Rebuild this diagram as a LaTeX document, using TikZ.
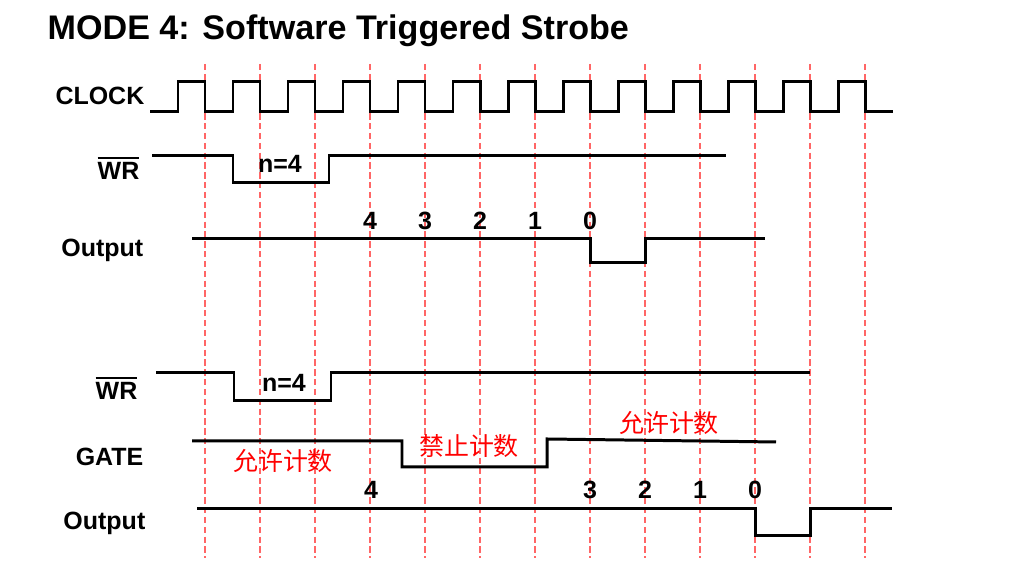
\documentclass[tikz,border=0pt]{standalone}
\usepackage{fontspec}
\setmainfont{Liberation Sans}
\newfontfamily\cjk{Noto Sans CJK SC}
\tikzset{
  sig/.style={line width=0.85pt},
  guide/.style={red!60,line width=0.35pt,dash pattern=on 1.8pt off 1pt},
  lbl/.style={font=\fontsize{7.1}{8}\selectfont\bfseries,inner sep=0pt},
  cnt/.style={red,font=\fontsize{7.1}{8}\selectfont\cjk,inner sep=0pt}
}
\begin{document}
\begin{tikzpicture}[x=0.01cm,y=-0.01cm]
\useasboundingbox (0,0) rectangle (1024,571);
% clock edges
\foreach \k in {0,...,12}
  \draw [guide] ({205+55*\k},64) -- ({205+55*\k},558);
\node [lbl,font=\fontsize{9.7}{11}\selectfont\bfseries,anchor=base west] (title) at (47,40) {MODE 4: Software Triggered Strobe};
% upper case
\node [lbl,anchor=base east] (clk) at (145,105) {CLOCK};
\draw [sig] (150,112) \foreach \k in {0,...,12} {-- ({178+55*\k},112) |- ({205+55*\k},82) -- ({205+55*\k},112)} -- (893,112);
\node [lbl,anchor=base east] (wra) at (140,180) {$\overline{\mbox{WR}}$};
\draw [sig] (152,156) -- (233,156) -- (233,183) -- (329,183) -- (329,156) -- (726,156);
\node [lbl,anchor=base] (na) at (280,173) {n=4};
\node [lbl,anchor=base east] (outa) at (144,257) {Output};
\draw [sig] (192,239) -- (590,239) -- (590,263) -- (645,263) -- (645,239) -- (765,239);
\node [lbl,anchor=base] (ca4) at (370,229.5) {4};
\node [lbl,anchor=base] (ca3) at (425,229.5) {3};
\node [lbl,anchor=base] (ca2) at (480,229.5) {2};
\node [lbl,anchor=base] (ca1) at (535,229.5) {1};
\node [lbl,anchor=base] (ca0) at (590,229.5) {0};
% lower case, gate held low
\node [lbl,anchor=base east] (wrb) at (138,400) {$\overline{\mbox{WR}}$};
\draw [sig] (156,373) -- (234,373) -- (234,401) -- (331,401) -- (331,373) -- (810,373);
\node [lbl,anchor=base] (nb) at (284,391.5) {n=4};
\node [lbl,anchor=base east] (gate) at (144,466) {GATE};
\draw [sig] (192,441) -- (402,441) -- (402,467) -- (547,467) -- (547,439) -- (776,442);
\node [cnt] (ena) at (283,461) {允许计数};
\node [cnt] (dis) at (469,446) {禁止计数};
\node [cnt] (enb) at (669,423) {允许计数};
\node [lbl,anchor=base east] (outb) at (146,530) {Output};
\draw [sig] (197,509) -- (755,509) -- (755,536) -- (810,536) -- (810,509) -- (892,509);
\node [lbl,anchor=base] (cb4) at (371,499) {4};
\node [lbl,anchor=base] (cb3) at (590,499) {3};
\node [lbl,anchor=base] (cb2) at (645,499) {2};
\node [lbl,anchor=base] (cb1) at (700,499) {1};
\node [lbl,anchor=base] (cb0) at (755,499) {0};
\end{tikzpicture}
\end{document}
